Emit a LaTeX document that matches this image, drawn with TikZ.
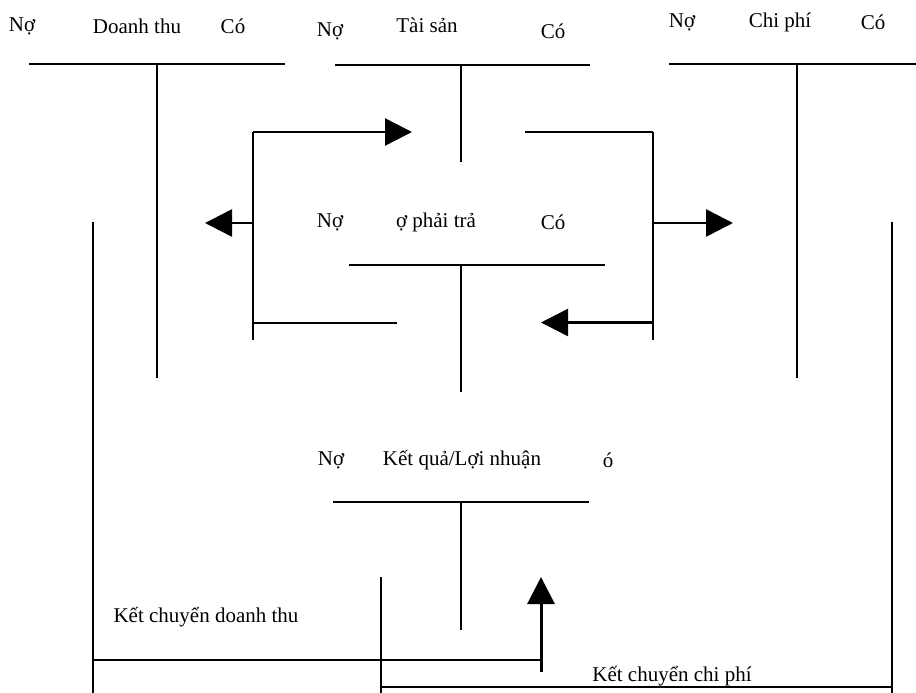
\documentclass[tikz,border=0pt]{standalone}
\usepackage{fontspec}
\setmainfont{Liberation Serif}
\usetikzlibrary{arrows.meta}

\tikzset{
  tline/.style = {draw = black, line width = 2pt},
  flow/.style = {draw = black, line width = 2.5pt, -{Triangle[length = 27pt, width = 27pt]}},
  lbl/.style = {inner sep = 0pt}
}

\begin{document}
\begin{tikzpicture}[x = 1pt, y = -1pt, font = \fontsize{21}{25}\selectfont]
\useasboundingbox (0, 0) rectangle (916, 693);

% Doanh thu
\node [lbl] (dtNo) at (22, 26) {Nợ};
\node [lbl] (dtName) at (137, 26) {Doanh thu};
\node [lbl] (dtCo) at (233, 26) {Có};
\coordinate (dtL) at (29, 64.5);
\coordinate (dtR) at (285, 64.5);
\coordinate (dtTop) at (157, 64.5);
\coordinate (dtBot) at (157, 378);
\path [tline] (dtL) -- (dtR);
\path [tline] (dtTop) -- (dtBot);

% Tai san
\node [lbl] (tsNo) at (330, 31) {Nợ};
\node [lbl] (tsName) at (427, 25) {Tài sản};
\node [lbl] (tsCo) at (553, 31) {Có};
\coordinate (tsL) at (335, 65.5);
\coordinate (tsR) at (590, 65.5);
\coordinate (tsTop) at (461, 65.5);
\coordinate (tsBot) at (461, 162);
\path [tline] (tsL) -- (tsR);
\path [tline] (tsTop) -- (tsBot);

% Chi phi
\node [lbl] (cpNo) at (682, 22) {Nợ};
\node [lbl] (cpName) at (780, 22) {Chi phí};
\node [lbl] (cpCo) at (873, 22) {Có};
\coordinate (cpL) at (669, 64.5);
\coordinate (cpR) at (916, 64.5);
\coordinate (cpTop) at (797, 64.5);
\coordinate (cpBot) at (797, 378);
\path [tline] (cpL) -- (cpR);
\path [tline] (cpTop) -- (cpBot);

% No phai tra
\node [lbl] (ptNo) at (330, 222) {Nợ};
\node [lbl] (ptName) at (436, 222) {ợ phải trả};
\node [lbl] (ptCo) at (553, 222) {Có};
\coordinate (ptL) at (349, 264.5);
\coordinate (ptR) at (605, 264.5);
\coordinate (ptTop) at (461, 264.5);
\coordinate (ptBot) at (461, 392);
\path [tline] (ptL) -- (ptR);
\path [tline] (ptTop) -- (ptBot);

% Ket qua
\node [lbl] (kqNo) at (331, 460) {Nợ};
\node [lbl] (kqName) at (462, 460) {Kết quả/Lợi nhuận};
\node [lbl] (kqCo) at (608, 460) {ó};
\coordinate (kqL) at (333, 502);
\coordinate (kqR) at (589, 502);
\coordinate (kqTop) at (461, 502);
\coordinate (kqBot) at (461, 630);
\path [tline] (kqL) -- (kqR);
\path [tline] (kqTop) -- (kqBot);

% left loop
\coordinate (lbTop) at (253, 132);
\coordinate (lbTip) at (412, 132);
\coordinate (lbMid) at (253, 223);
\coordinate (lbOut) at (205, 223);
\coordinate (lbBot) at (253, 340);
\coordinate (lbBL) at (253, 322.5);
\coordinate (lbBR) at (397, 322.5);
\path [tline] (lbTop) -- (lbBot);
\path [flow] (lbTop) -- (lbTip);
\path [flow] (lbMid) -- (lbOut);
\path [tline] (lbBL) -- (lbBR);

% right loop
\coordinate (rbTop) at (652.5, 132);
\coordinate (rbTL) at (525, 132);
\coordinate (rbMid) at (652.5, 223);
\coordinate (rbOut) at (733, 223);
\coordinate (rbBot) at (652.5, 340);
\coordinate (rbBR) at (652.5, 322.5);
\coordinate (rbTip) at (541, 322.5);
\path [tline] (rbTop) -- (rbBot);
\path [tline] (rbTL) -- (rbTop);
\path [flow] (rbMid) -- (rbOut);
\path [flow] (rbBR) -- (rbTip);

% ket chuyen
\node [lbl] (kcDt) at (206, 617) {Kết chuyển doanh thu};
\node [lbl] (kcCp) at (672, 676) {Kết chuyển chi phí};
\coordinate (dtOutTop) at (93, 222);
\coordinate (dtOutBot) at (93, 693);
\coordinate (dtJoin) at (93, 660);
\coordinate (upFoot) at (541, 672);
\coordinate (upCorner) at (541, 660);
\coordinate (upTip) at (541, 577);
\coordinate (cpOutTop) at (892, 222);
\coordinate (cpOutBot) at (892, 693);
\coordinate (cpJoin) at (892, 686.5);
\coordinate (midTop) at (381, 577);
\coordinate (midBot) at (381, 693);
\coordinate (midJoin) at (381, 686.5);
\path [tline] (dtOutTop) -- (dtOutBot);
\path [tline] (cpOutTop) -- (cpOutBot);
\path [tline] (midTop) -- (midBot);
\path [tline] (dtJoin) -- (upCorner);
\path [tline] (midJoin) -- (cpJoin);
\path [flow, line width = 3pt] (upFoot) -- (upTip);
\end{tikzpicture}
\end{document}
